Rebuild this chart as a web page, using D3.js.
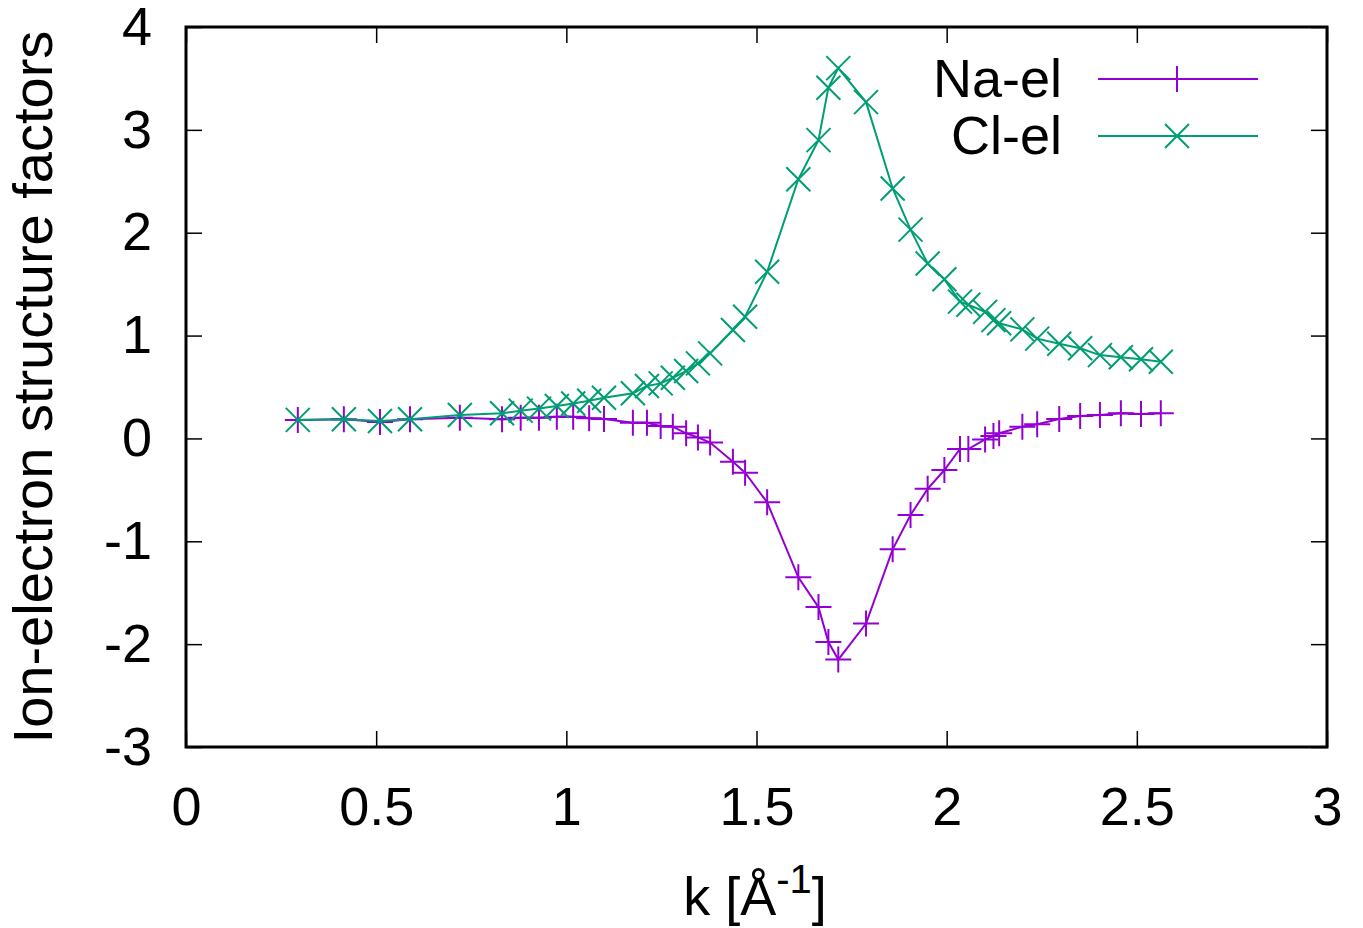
<!DOCTYPE html>
<html>
<head>
<meta charset="utf-8">
<script src="https://cdn.jsdelivr.net/npm/d3@7"></script>
<style>
  body { margin: 0; background: #fff; }
  text { font-family: "Liberation Sans", Arial, sans-serif; fill: #000; }
</style>
</head>
<body>
<div id="chart"></div>
<script>
// DATA
// ------------------------------------------------------------------

// k values [1/Angstrom], shared by both series
var kValues = [0.294, 0.415, 0.51, 0.589, 0.72, 0.831, 0.88, 0.928, 0.975, 1.018,
  1.06, 1.099, 1.175, 1.212, 1.248, 1.28, 1.315, 1.346, 1.378, 1.438,
  1.47, 1.528, 1.61, 1.663, 1.689, 1.715, 1.788, 1.858, 1.905, 1.95,
  1.994, 2.035, 2.057, 2.101, 2.123, 2.138, 2.199, 2.238, 2.296, 2.351,
  2.403, 2.458, 2.511, 2.563];

var naEl = [0.18, 0.186, 0.16, 0.186, 0.2, 0.186, 0.2, 0.2, 0.21, 0.21,
  0.195, 0.19, 0.153, 0.153, 0.12, 0.114, 0.05, 0.01, -0.04, -0.227,
  -0.333, -0.621, -1.35, -1.64, -1.98, -2.15, -1.8, -1.078, -0.745, -0.49,
  -0.307, -0.103, -0.103, -0.01, 0.023, 0.05, 0.114, 0.137, 0.189, 0.218,
  0.228, 0.244, 0.237, 0.244];

var clEl = [0.18, 0.186, 0.17, 0.186, 0.227, 0.244, 0.27, 0.29, 0.315, 0.34,
  0.367, 0.395, 0.44, 0.51, 0.535, 0.59, 0.655, 0.73, 0.827, 1.054,
  1.183, 1.62, 2.52, 2.9, 3.41, 3.6, 3.27, 2.43, 2.03, 1.7,
  1.547, 1.33, 1.3, 1.23, 1.15, 1.12, 1.06, 0.97, 0.92, 0.876,
  0.81, 0.79, 0.77, 0.746];

var xTicks = [0, 0.5, 1, 1.5, 2, 2.5, 3],
    yTicks = [-3, -2, -1, 0, 1, 2, 3, 4];

var seriesNames = ["Na-el", "Cl-el"],
    seriesColors = ["#9400d3", "#009e73"];

// CANVAS
// ------------------------------------------------------------------

var width = 1363,
    height = 928;

var svg = d3.select("#chart")
    .append("svg")
    .attr("width", width)
    .attr("height", height);

var plotLeft = 186, plotRight = 1327, plotTop = 27, plotBottom = 747,
    tickLen = 16, fontSize = 54;

var xScale = d3.scaleLinear().domain([0, 3]).range([plotLeft, plotRight]),
    yScale = d3.scaleLinear().domain([-3, 4]).range([plotBottom, plotTop]);

// plain hyphen for negatives, as gnuplot prints them
var plainFormat = function(d) { return String(d); };

// AXES
// ------------------------------------------------------------------

function styleAxis(g) {
  g.select(".domain").remove();
  g.selectAll(".tick line").attr("stroke", "#000").attr("stroke-width", 1.5);
  g.selectAll(".tick text").style("font-size", fontSize + "px")
    .style("font-family", "'Liberation Sans', Arial, sans-serif");
}

svg.append("g")
    .attr("transform", "translate(0," + plotBottom + ")")
    .call(d3.axisBottom(xScale).tickValues(xTicks).tickSize(-tickLen)
      .tickPadding(40).tickFormat(plainFormat))
    .call(styleAxis);

svg.append("g")
    .attr("transform", "translate(0," + plotTop + ")")
    .call(d3.axisTop(xScale).tickValues(xTicks).tickSize(-tickLen)
      .tickFormat(""))
    .call(styleAxis);

svg.append("g")
    .attr("transform", "translate(" + plotLeft + ",0)")
    .call(d3.axisLeft(yScale).tickValues(yTicks).tickSize(-tickLen)
      .tickPadding(34).tickFormat(plainFormat))
    .call(styleAxis);

svg.append("g")
    .attr("transform", "translate(" + plotRight + ",0)")
    .call(d3.axisRight(yScale).tickValues(yTicks).tickSize(-tickLen)
      .tickFormat(""))
    .call(styleAxis);

// frame
svg.append("rect")
    .attr("x", plotLeft)
    .attr("y", plotTop)
    .attr("width", plotRight - plotLeft)
    .attr("height", plotBottom - plotTop)
    .attr("fill", "none")
    .attr("stroke", "#000")
    .attr("stroke-width", 3);

// axis titles
svg.append("text")
    .attr("transform", "translate(52," + ((plotTop + plotBottom) / 2) + ") rotate(-90)")
    .style("text-anchor", "middle")
    .style("font-size", "56px")
    .text("Ion-electron structure factors");

var xTitle = svg.append("text")
    .attr("x", 755)
    .attr("y", 915)
    .style("text-anchor", "middle")
    .style("font-size", fontSize + "px");
xTitle.append("tspan").text("k [Å");
xTitle.append("tspan").attr("dy", -22).style("font-size", "40px").text("-1");
xTitle.append("tspan").attr("dy", 22).text("]");

// SERIES
// ------------------------------------------------------------------

var markerPaths = [
  "M-13,0H13M0,-13V13",
  "M-12,-12L12,12M-12,12L12,-12"
];

var line = d3.line()
    .x(function(d) { return xScale(d[0]); })
    .y(function(d) { return yScale(d[1]); });

[naEl, clEl].forEach(function(vals, i) {
  var pts = kValues.map(function(k, j) { return [k, vals[j]]; });
  var g = svg.append("g");
  g.append("path")
      .attr("d", line(pts))
      .attr("fill", "none")
      .attr("stroke", seriesColors[i])
      .attr("stroke-width", 2);
  g.selectAll("path.marker")
      .data(pts)
      .enter().append("path")
      .attr("class", "marker")
      .attr("transform", function(d) {
        return "translate(" + xScale(d[0]) + "," + yScale(d[1]) + ")";
      })
      .attr("d", markerPaths[i])
      .attr("fill", "none")
      .attr("stroke", seriesColors[i])
      .attr("stroke-width", 2);
});

// LEGEND
// ------------------------------------------------------------------

seriesNames.forEach(function(name, i) {
  var y = 79 + i * 57;
  svg.append("text")
      .attr("x", 1062)
      .attr("y", y + 18)
      .style("text-anchor", "end")
      .style("font-size", fontSize + "px")
      .text(name);
  svg.append("line")
      .attr("x1", 1098).attr("x2", 1258)
      .attr("y1", y).attr("y2", y)
      .attr("stroke", seriesColors[i])
      .attr("stroke-width", 2);
  svg.append("path")
      .attr("transform", "translate(1177," + y + ")")
      .attr("d", markerPaths[i])
      .attr("fill", "none")
      .attr("stroke", seriesColors[i])
      .attr("stroke-width", 2);
});
</script>
</body>
</html>
